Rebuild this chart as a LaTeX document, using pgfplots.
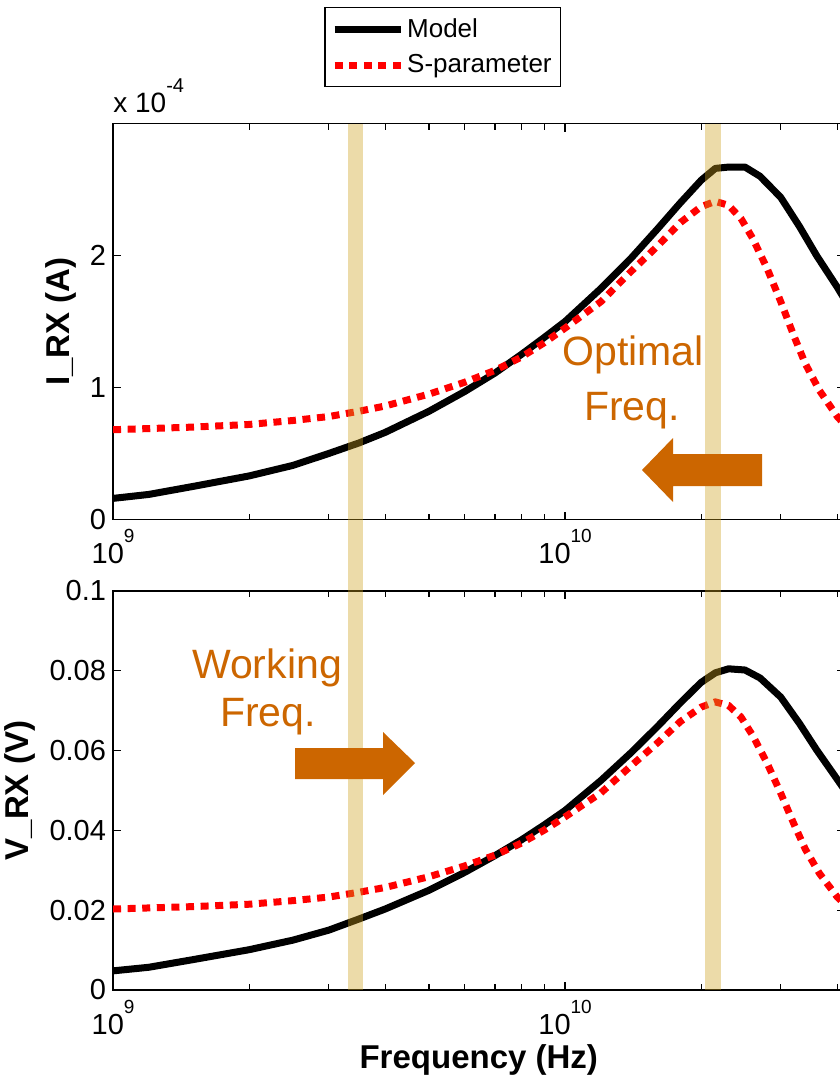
\documentclass[border=0pt]{standalone}
\usepackage{fontspec}
\setmainfont{Liberation Sans}
\usepackage{pgfplots}
\usepackage{pgfplotstable}
\pgfplotsset{compat=1.18}
\definecolor{orng}{RGB}{204,102,0}
\definecolor{bandc}{RGB}{205,160,30}

\pgfplotstableread{
f I
1e9 0.16
1.2e9 0.19
1.5e9 0.25
2e9 0.33
2.5e9 0.41
3e9 0.50
3.5e9 0.58
4e9 0.66
5e9 0.82
6e9 0.97
7e9 1.11
8e9 1.25
9e9 1.38
1e10 1.50
1.2e10 1.75
1.4e10 1.98
1.6e10 2.20
1.8e10 2.40
2e10 2.57
2.15e10 2.66
2.3e10 2.67
2.5e10 2.67
2.7e10 2.60
3e10 2.44
3.3e10 2.22
3.6e10 2.00
4e10 1.76
4.15e10 1.67
}\topmodel

\pgfplotstableread{
f I
1e9 0.68
1.5e9 0.70
2e9 0.72
2.5e9 0.75
3e9 0.78
3.5e9 0.82
4e9 0.86
5e9 0.95
6e9 1.04
7e9 1.13
8e9 1.23
9e9 1.34
1e10 1.45
1.2e10 1.65
1.4e10 1.88
1.6e10 2.07
1.8e10 2.25
2e10 2.37
2.15e10 2.41
2.3e10 2.38
2.45e10 2.28
2.6e10 2.13
2.8e10 1.90
3e10 1.65
3.2e10 1.40
3.4e10 1.18
3.65e10 0.98
4e10 0.78
4.15e10 0.72
}\topspar

\pgfplotstableread{
f V
1e9 0.0048
1.2e9 0.0057
1.5e9 0.0076
2e9 0.0101
2.5e9 0.0125
3e9 0.0150
3.5e9 0.0178
4e9 0.0203
5e9 0.0250
6e9 0.0295
7e9 0.0337
8e9 0.0376
9e9 0.0414
1e10 0.0450
1.2e10 0.0525
1.4e10 0.0595
1.6e10 0.0660
1.8e10 0.0720
2e10 0.0771
2.15e10 0.0795
2.3e10 0.0805
2.5e10 0.0802
2.7e10 0.0782
3e10 0.0734
3.3e10 0.0668
3.6e10 0.0602
4e10 0.0528
4.15e10 0.0502
}\botmodel

\pgfplotstableread{
f V
1e9 0.0203
1.5e9 0.0209
2e9 0.0215
2.5e9 0.0224
3e9 0.0233
3.5e9 0.0245
4e9 0.0257
5e9 0.0284
6e9 0.0311
7e9 0.0338
8e9 0.0368
9e9 0.0401
1e10 0.0434
1.2e10 0.0494
1.4e10 0.0562
1.6e10 0.0619
1.8e10 0.0673
2e10 0.0709
2.15e10 0.0722
2.3e10 0.0713
2.45e10 0.0684
2.6e10 0.0638
2.8e10 0.0568
3e10 0.0493
3.2e10 0.0419
3.4e10 0.0353
3.65e10 0.0293
4e10 0.0233
4.15e10 0.0216
}\botspar

\newcommand{\tenexp}[1]{10\raisebox{0.72em}{\fontsize{9.5}{9.5}\selectfont #1}}

\pgfplotsset{myax/.style={
  scale only axis, width=365.7pt,
  xmin=1e9, xmax=4.15e10,
  xtick={1e9,1e10},
  xticklabels={\tenexp{9},\tenexp{10}},
  minor xtick={2e9,3e9,4e9,5e9,6e9,7e9,8e9,9e9,2e10,3e10,4e10},
  tick align=inside, major tick length=4pt, minor tick length=3pt,
  axis line style={line width=0.8pt},
  every tick/.style={black, line width=0.6pt},
  ticklabel style={font=\fontsize{14.5}{16}\selectfont},
  xticklabel style={anchor=base, yshift=-22pt},
  label style={font=\bfseries\fontsize{16.5}{19}\selectfont},
}}

\begin{document}
\begin{tikzpicture}
\begin{semilogxaxis}[myax, height=198pt, at={(56.5pt,-259.75pt)}, anchor=south west,
  ymin=0, ymax=3, ytick={0,1,2}, yticklabels={0,1,2},
  ylabel={I\_RX (A)},
  legend image code/.code={\draw[#1] (0pt,0pt) -- (33pt,0pt);},
  legend style={at={(0.451,1.2945)}, anchor=north, draw=black, line width=0.7pt,
    font=\fontsize{13}{15}\selectfont, inner xsep=3pt, inner ysep=4pt,
    row sep=4pt, nodes={inner sep=1.5pt}},
  legend cell align=left]
\addplot[black, line width=3.5pt, line join=round] table[x=f,y=I] {\topmodel};
\addlegendentry{Model}
\addplot[red, line width=3.5pt, dash pattern=on 4pt off 3.3pt] table[x=f,y=I] {\topspar};
\addlegendentry{S-parameter}
\coordinate (b1t) at (axis cs:3.31e9,3);
\coordinate (b2t) at (axis cs:2.04e10,3);
\end{semilogxaxis}
\begin{semilogxaxis}[myax, height=199.5pt, at={(56.5pt,-495pt)}, anchor=south west,
  ymin=0, ymax=0.1, ytick={0,0.02,0.04,0.06,0.08,0.1},
  yticklabels={0,0.02,0.04,0.06,0.08,0.1},
  ylabel={V\_RX (V)}, xlabel={Frequency (Hz)},
  xlabel style={at={(axis description cs:0.5,0)}, anchor=base, yshift=-39pt}]
\addplot[black, line width=3.5pt, line join=round] table[x=f,y=V] {\botmodel};
\addplot[red, line width=3.5pt, dash pattern=on 4pt off 3.3pt] table[x=f,y=V] {\botspar};
\coordinate (b1b) at (axis cs:3.57e9,0);
\coordinate (b2b) at (axis cs:2.21e10,0);
\end{semilogxaxis}
\fill[bandc, fill opacity=0.38] (b1t) rectangle (b1b);
\fill[bandc, fill opacity=0.38] (b2t) rectangle (b2b);
\begin{scope}[x=0.5pt,y=-0.5pt]
\node[anchor=base west, inner sep=0pt, font=\fontsize{14}{16}\selectfont] at (113,113) {x 10\raisebox{0.72em}{\fontsize{10}{10}\selectfont -4}};
\node[anchor=base, inner sep=0pt, text=orng, font=\fontsize{20.5}{22}\selectfont] at (633,365) {Optimal};
\node[anchor=base, inner sep=0pt, text=orng, font=\fontsize{20.5}{22}\selectfont] at (632,420) {Freq.};
\node[anchor=base, inner sep=0pt, text=orng, font=\fontsize{20.5}{22}\selectfont] at (267,678) {Working};
\node[anchor=base, inner sep=0pt, text=orng, font=\fontsize{20.5}{22}\selectfont] at (268,726) {Freq.};
\fill[orng] (642,470) -- (673,438) -- (673,454) -- (762,454) -- (762,486) -- (673,486) -- (673,502) -- cycle;
\fill[orng] (415,763) -- (383,732) -- (383,748) -- (295,748) -- (295,779) -- (383,779) -- (383,795) -- cycle;
\end{scope}
\pgfresetboundingbox
\path (0,0) rectangle (419.5pt,-539.5pt);
\end{tikzpicture}
\end{document}
